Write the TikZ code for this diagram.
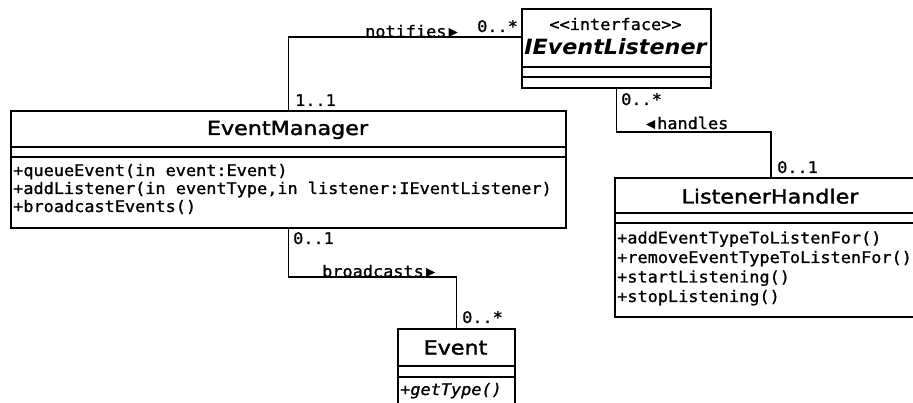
\documentclass[tikz,border=0pt]{standalone}
\usepackage{fontspec}
\usetikzlibrary{calc}
\setmainfont{DejaVu Sans}
\newfontfamily\umlsans{DejaVu Sans}[FakeStretch=1.14, FakeBold=1.8]
\newfontfamily\umlabs{DejaVu Sans}[FakeStretch=1.06]
\newfontfamily\umlmono{DejaVu Sans Mono}[FakeStretch=1.055, FakeBold=1.1]

\tikzset{
  umlbox/.style={draw, line width=1.8pt, rectangle, inner sep=0pt, anchor=north west, line join=miter},
  compline/.style={line width=1.8pt},
  conn/.style={line width=1.8pt, line join=miter},
  clsname/.style={anchor=base, inner sep=0pt, font=\umlsans\fontsize{19.5}{23}\selectfont},
  absname/.style={anchor=base, inner sep=0pt, font=\umlabs\bfseries\itshape\fontsize{21}{24}\selectfont},
  stereo/.style={anchor=base, inner sep=0pt, font=\umlmono\fontsize{16}{19}\selectfont},
  oper/.style={anchor=base west, inner sep=0pt, font=\umlmono\fontsize{16}{19}\selectfont},
  absoper/.style={anchor=base west, inner sep=0pt, font=\umlmono\itshape\fontsize{16}{19}\selectfont},
  mult/.style={anchor=base west, inner sep=0pt, font=\umlmono\fontsize{16}{19}\selectfont},
  dirtri/.style={fill=black, draw=none},
}

\begin{document}
\begin{tikzpicture}[x=1pt,y=-1pt]
  \useasboundingbox (0,0) rectangle (913,403);
  \fill[white] (0,0) rectangle (913,403);
  \clip (0,0) rectangle (913,403);

  % class boxes
  \node[umlbox, minimum width=555pt, minimum height=117pt] (em) at (10,110) {};
  \node[umlbox, minimum width=189pt, minimum height=79pt] (il) at (521,8) {};
  \node[umlbox, minimum width=312pt, minimum height=139pt] (lh) at (614,177) {};
  \node[umlbox, minimum width=117pt, minimum height=78pt] (ev) at (397,328) {};

  % compartment separators
  \draw[compline] ($(em.north west)+(0,37)$) -- ($(em.north east)+(0,37)$);
  \draw[compline] ($(em.north west)+(0,47)$) -- ($(em.north east)+(0,47)$);
  \draw[compline] ($(il.north west)+(0,59)$) -- ($(il.north east)+(0,59)$);
  \draw[compline] ($(il.north west)+(0,69)$) -- ($(il.north east)+(0,69)$);
  \draw[compline] ($(lh.north west)+(0,36)$) -- ($(lh.north east)+(0,36)$);
  \draw[compline] ($(lh.north west)+(0,46)$) -- ($(lh.north east)+(0,46)$);
  \draw[compline] ($(ev.north west)+(0,38)$) -- ($(ev.north east)+(0,38)$);
  \draw[compline] ($(ev.north west)+(0,49)$) -- ($(ev.north east)+(0,49)$);

  % class names
  \node[clsname] (emname) at (287.5,135) {EventManager};
  \node[stereo] (ilstereo) at (615.5,30) {<\kern0pt<interface>\kern0pt>};
  \node[absname] (ilname) at (615.5,55) {IEventListener};
  \node[clsname] (lhname) at (770,203.5) {ListenerHandler};
  \node[clsname] (evname) at (455.5,354.5) {Event};

  % operations
  \node[oper] (em1) at (13,176) {+queueEvent(in event:Event)};
  \node[oper] (em2) at (13,194) {+addListener(in eventType,in listener:IEventListener)};
  \node[oper] (em3) at (13,212) {+broadcastEvents()};
  \node[oper] (lh1) at (617,243.5) {+addEventTypeToListenFor()};
  \node[oper] (lh2) at (617,263) {+removeEventTypeToListenFor()};
  \node[oper] (lh3) at (617,282.5) {+startListening()};
  \node[oper] (lh4) at (617,302) {+stopListening()};
  \node[absoper] (ev1) at (400,395) {+getType()};

  % associations
  \coordinate (nfy) at (0,37);
  \coordinate (hdl) at (0,132);
  \coordinate (bct) at (0,277);
  \draw[conn] (em.north) -- (em.north |- nfy) -- (nfy -| il.west);
  \draw[conn] (il.south) -- (il.south |- hdl) -- (hdl -| lh.north) -- (lh.north);
  \draw[conn] (em.south) -- (em.south |- bct) -- (bct -| ev.north) -- (ev.north);

  % association labels and multiplicities
  \node[mult] (m1) at (295,106) {1..1};
  \node[mult] (nt) at (365,37) {notifies};
  \fill[dirtri] ($(nt.base east)+(2,0)$) -- ++(0,-9) -- ++(9,4.5) -- cycle;
  \node[mult] (m2) at (477,32) {0..*};

  \node[mult] (m3) at (621,105) {0..*};
  \node[mult] (hd) at (657,129) {handles};
  \fill[dirtri] ($(hd.base west)+(-2,0)$) -- ++(0,-9) -- ++(-9,4.5) -- cycle;
  \node[mult] (m4) at (777,173) {0..1};

  \node[mult] (m5) at (293,244) {0..1};
  \node[mult] (bc) at (322,277) {broadcasts};
  \fill[dirtri] ($(bc.base east)+(2,0)$) -- ++(0,-9) -- ++(9,4.5) -- cycle;
  \node[mult] (m6) at (462,323) {0..*};
\end{tikzpicture}
\end{document}
